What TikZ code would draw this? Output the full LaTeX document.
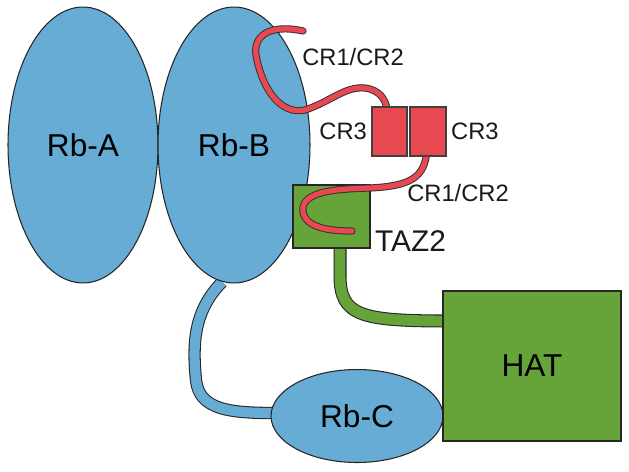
\documentclass[tikz,border=0pt]{standalone}
\usepackage{fontspec}
\setmainfont{Liberation Sans}
\usetikzlibrary{shapes.geometric}

\definecolor{rbblue}{RGB}{102,172,212}
\definecolor{hatgreen}{RGB}{102,164,58}
\definecolor{crred}{RGB}{232,72,80}

\tikzset{
  rbdomain/.style={ellipse, draw=black!85, line width=0.6pt, fill=rbblue, inner sep=0pt},
  greenbox/.style={rectangle, draw=black!85, line width=0.6pt, fill=hatgreen, inner sep=0pt},
  redbox/.style={rectangle, draw=black!75, line width=0.6pt, fill=crred, inner sep=0pt},
  tail/.style={draw=crred, line width=3pt, line cap=round,
    preaction={draw=black!80, line width=4.1pt, line cap=round}},
  bluelinker/.style={draw=rbblue, line width=5.8pt,
    preaction={draw=black!85, line width=7pt}},
  greenlinker/.style={draw=hatgreen, line width=6.2pt,
    preaction={draw=black!85, line width=7.4pt}},
  lbl/.style={inner sep=1pt, text=black!90}
}

\begin{document}
\begin{tikzpicture}[x=0.02cm, y=-0.02cm]
\useasboundingbox (0,0) rectangle (629,471);

% Linker Rb-B to Rb-C (behind the domains)
\coordinate (bstart) at (222,282);
\coordinate (bend) at (275,413);
\draw[bluelinker] (bstart) .. controls (195,310) and (192,340) .. (196,380)
  .. controls (199,410) and (230,413) .. (bend);

% Rb domains
\node[rbdomain, minimum width=3cm, minimum height=5.52cm] (rba) at (83,145) {\fontsize{18}{20}\selectfont Rb-A};
\node[rbdomain, minimum width=3.04cm, minimum height=5.52cm] (rbb) at (234,145) {\fontsize{18}{20}\selectfont Rb-B};
\node[rbdomain, minimum width=3.44cm, minimum height=1.86cm] (rbc) at (357,416) {\fontsize{18}{20}\selectfont Rb-C};

% Linker TAZ2 to HAT
\coordinate (gstart) at (340,240);
\coordinate (gend) at (450,321);
\draw[greenlinker] (gstart) -- (340,275) .. controls (340,316) and (360,321) .. (gend);

% TAZ2 and HAT
\node[greenbox, minimum width=1.54cm, minimum height=1.26cm] (taz) at (331.5,216.5) {};
\node[lbl, anchor=west] (tazlbl) at (373,241) {\fontsize{17}{19}\selectfont TAZ2};
\node[greenbox, minimum width=3.56cm, minimum height=3cm] (hat) at (532,366) {\fontsize{18}{20}\selectfont HAT};

% CR1/CR2 tails
\coordinate (tailA) at (303,31);
\coordinate (tailB) at (352,231);
\draw[tail] (tailA) .. controls (272,24) and (250,34) .. (257,60)
  .. controls (264,92) and (282,115) .. (305,110)
  .. controls (330,102) and (345,86) .. (365,88)
  .. controls (380,90) and (386,100) .. (387,110);
\draw[tail] (427,150) .. controls (425,178) and (410,186) .. (370,188)
  .. controls (340,189) and (300,190) .. (303,212)
  .. controls (306,228) and (330,231) .. (tailB);

% CR3 boxes
\node[redbox, minimum width=0.7cm, minimum height=0.98cm] (cr3a) at (389.5,131.5) {};
\node[redbox, minimum width=0.72cm, minimum height=0.98cm] (cr3b) at (428,131.5) {};

% Labels
\node[lbl, anchor=east] (cr3albl) at ([xshift=-0.05cm]cr3a.west) {\fontsize{13.5}{15}\selectfont CR3};
\node[lbl, anchor=west] (cr3blbl) at ([xshift=0.05cm]cr3b.east) {\fontsize{13.5}{15}\selectfont CR3};
\node[lbl] (cr12a) at (353,57) {\fontsize{13.5}{15}\selectfont CR1/CR2};
\node[lbl] (cr12b) at (458,193) {\fontsize{13.5}{15}\selectfont CR1/CR2};
\end{tikzpicture}
\end{document}
